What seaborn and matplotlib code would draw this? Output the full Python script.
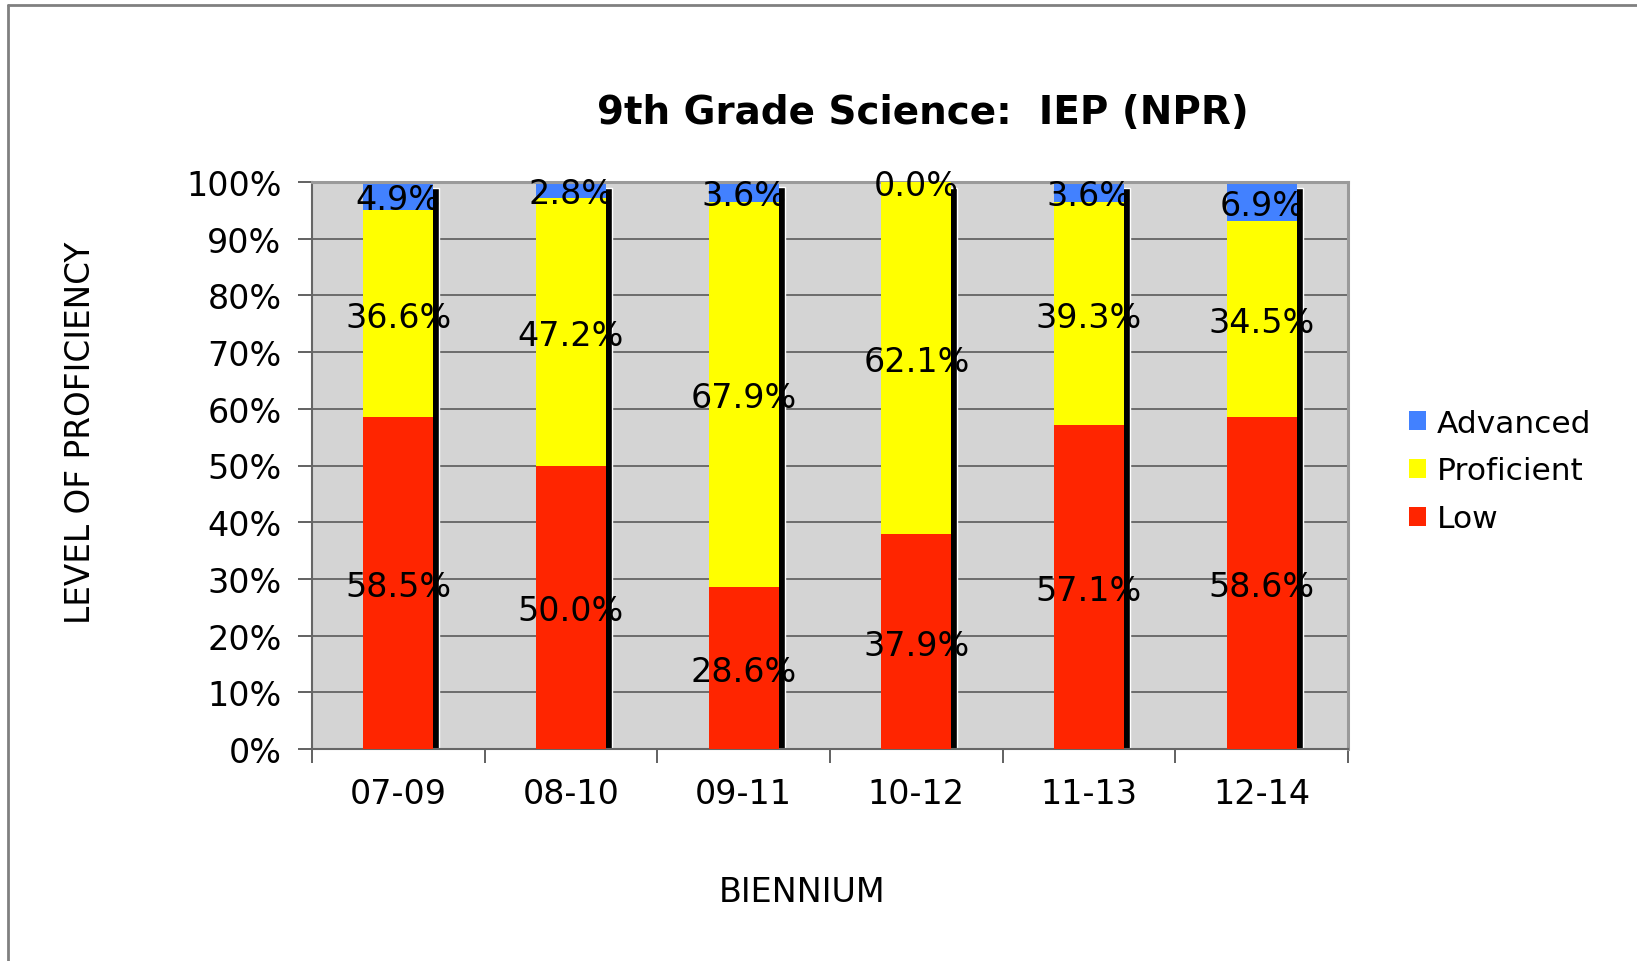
import matplotlib
matplotlib.use("Agg")
import matplotlib.pyplot as plt
import matplotlib.transforms as mtransforms
from matplotlib.patches import Patch
from matplotlib.lines import Line2D
import numpy as np
import pandas as pd
import seaborn as sns

# Biennium categories and share of students at each proficiency level (%)
bienniums = ["07-09", "08-10", "09-11", "10-12", "11-13", "12-14"]
low = [58.5, 50.0, 28.6, 37.9, 57.1, 58.6]
proficient = [36.6, 47.2, 67.9, 62.1, 39.3, 34.5]
advanced = [4.9, 2.8, 3.6, 0.0, 3.6, 6.9]

levels = ["Advanced", "Proficient", "Low"]
colors = {"Advanced": "#4281FF", "Proficient": "#FFFF00", "Low": "#FF2500"}

df = pd.DataFrame({
    "Biennium": bienniums,
    "Low": low,
    "Proficient": proficient,
    "Advanced": advanced,
})
df["low_top"] = df["Low"]
df["prof_top"] = df["Low"] + df["Proficient"]
df["adv_top"] = df["prof_top"] + df["Advanced"]

sns.set_theme(style="white")
plt.rcParams["font.family"] = ["DejaVu Sans"]
for key in ["text.color", "axes.labelcolor", "xtick.color", "ytick.color"]:
    plt.rcParams[key] = "black"

fig = plt.figure(figsize=(16.37, 9.62), dpi=100)
ax = fig.add_axes([312 / 1637, 1 - 750 / 962, 1036 / 1637, 567 / 962])
ax.set_facecolor("#D4D4D4")

bar_w = 0.405

# drop shadow behind each stacked column
sns.barplot(data=df, x="Biennium", y="adv_top", color="black", width=bar_w,
            saturation=1, ax=ax, zorder=1)
shift = mtransforms.ScaledTranslation(6 / 100, -6 / 100, fig.dpi_scale_trans)
for p in ax.patches:
    p.set_transform(ax.transData + shift)
n_shadow = len(ax.patches)

# stacked segments, drawn from the tallest cumulative total downwards
sns.barplot(data=df, x="Biennium", y="adv_top", color=colors["Advanced"],
            width=bar_w, saturation=1, ax=ax, zorder=2)
sns.barplot(data=df, x="Biennium", y="prof_top", color=colors["Proficient"],
            width=bar_w, saturation=1, ax=ax, zorder=3)
sns.barplot(data=df, x="Biennium", y="low_top", color=colors["Low"],
            width=bar_w, saturation=1, ax=ax, zorder=4)
for p in ax.patches[n_shadow:]:
    p.set_linewidth(0)

# value labels centred in each segment
for i, row in df.iterrows():
    segs = [(0, row["Low"]), (row["Low"], row["Proficient"]),
            (row["prof_top"], row["Advanced"])]
    for base, val in segs:
        ax.text(i, base + val / 2, f"{val:.1f}%", ha="center",
                va="center_baseline", fontsize=24, color="black", zorder=6,
                clip_on=False)

ax.set_ylim(0, 100)
ax.set_xlim(-0.5, len(bienniums) - 0.5)
ax.set_yticks(np.arange(0, 101, 10))
ax.set_yticklabels([f"{v}%" for v in range(0, 101, 10)])
ax.yaxis.grid(True, color="#5A5A5A", linewidth=1.2)
ax.xaxis.grid(False)
ax.set_axisbelow(True)

ax.set_xticks(range(len(bienniums)))
ax.set_xticklabels(bienniums)
ax.set_xticks(np.arange(-0.5, len(bienniums), 1), minor=True)
ax.tick_params(axis="x", which="major", length=0, pad=20, labelsize=24)
ax.tick_params(axis="x", which="minor", length=10, width=1.3, color="#555555",
               direction="out", bottom=True)
ax.tick_params(axis="y", which="major", length=10, width=1.3, color="#555555",
               direction="out", left=True, pad=12, labelsize=24)

for side in ["top", "right"]:
    ax.spines[side].set_visible(True)
    ax.spines[side].set_color("#9A9A9A")
    ax.spines[side].set_linewidth(2.2)
for side in ["left", "bottom"]:
    ax.spines[side].set_visible(True)
    ax.spines[side].set_color("#666666")
    ax.spines[side].set_linewidth(1.5)

ax.set_xlabel("")
ax.set_ylabel("")
fig.text(802 / 1637, 1 - 893 / 962, "BIENNIUM", ha="center", va="center",
         fontsize=24)
fig.text(81 / 1637, 1 - 433 / 962, "LEVEL OF PROFICIENCY", ha="center",
         va="center", rotation=90, fontsize=23.5)
fig.text(923 / 1637, 1 - 113 / 962, "9th Grade Science:  IEP (NPR)",
         ha="center", va="center", fontsize=28, fontweight="bold")

handles = [Patch(facecolor=colors[k], edgecolor="none", label=k) for k in levels]
fig.legend(handles=handles, loc="center left",
           bbox_to_anchor=(1409 / 1637, 1 - 472 / 962), frameon=False,
           fontsize=22.5, handlelength=0.55, handleheight=0.55,
           handletextpad=0.35, labelspacing=0.6, borderpad=0,
           borderaxespad=0)

# outer chart border on the top and left edges
fig.add_artist(Line2D([8 / 1637, 1.0], [1 - 6 / 962, 1 - 6 / 962],
                      transform=fig.transFigure, color="#808080", lw=2))
fig.add_artist(Line2D([8 / 1637, 8 / 1637], [0.0, 1 - 6 / 962],
                      transform=fig.transFigure, color="#808080", lw=2))

fig.savefig("out.png", dpi=100)
